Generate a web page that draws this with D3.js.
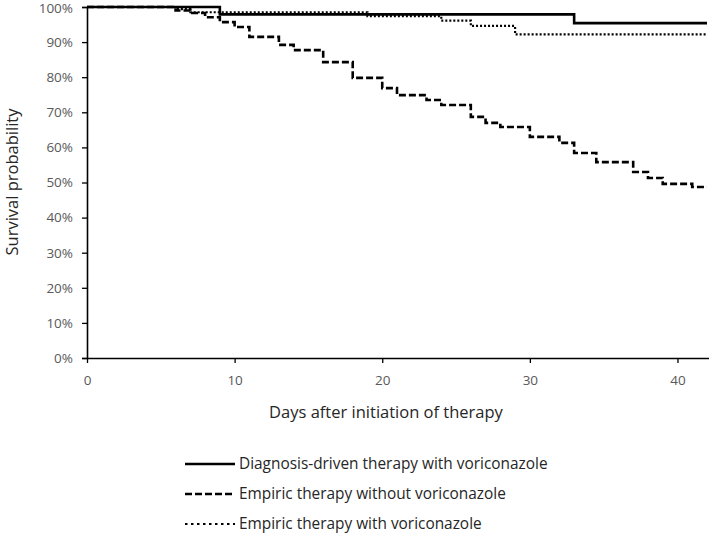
<!DOCTYPE html>
<html>
<head>
<meta charset="utf-8">
<script src="https://cdn.jsdelivr.net/npm/d3@7"></script>
<style>
  html, body { margin: 0; padding: 0; background: #fff; }
  svg { display: block; }
</style>
</head>
<body>
<svg id="chart" width="709" height="549"></svg>
<script>
// ---- data ----
const xTicks = [0, 10, 20, 30, 40];
const yTicks = [0, 10, 20, 30, 40, 50, 60, 70, 80, 90, 100];

const seriesNames = [
  "Diagnosis-driven therapy with voriconazole",
  "Empiric therapy without voriconazole",
  "Empiric therapy with voriconazole"
];

const diagDays = [0, 9, 33, 42];
const diagSurv = [100, 97.9, 95.4, 95.4];

const empNoDays = [0, 6, 7, 8, 9, 10, 11, 13, 14, 16, 18, 20, 21, 23, 24, 26, 27, 28, 30, 32, 33, 34.5, 37, 38, 39, 41, 42];
const empNoSurv = [100, 99, 98.3, 97.1, 95.7, 94.3, 91.5, 89.2, 87.7, 84.3, 79.8, 76.9, 74.9, 73.5, 72.1, 68.7, 67.0, 65.8, 63.0, 61.3, 58.4, 55.8, 53.0, 51.3, 49.6, 48.7, 48.7];

const empVoriDays = [0, 6, 7, 19, 24, 26, 29, 42];
const empVoriSurv = [100, 99.4, 98.5, 97.4, 96.1, 94.6, 92.2, 92.2];

// ---- layout ----
const svg = d3.select("#chart");
const x = d3.scaleLinear().domain([0, 42]).range([87, 707]);
const y = d3.scaleLinear().domain([0, 100]).range([358, 7]);
const font = "'Open Sans', 'Liberation Sans', sans-serif";

// axes
const yAxis = d3.axisLeft(y).tickValues(yTicks).tickFormat(d => d + "%").tickSizeOuter(0).tickSize(5).tickPadding(9);
const gy = svg.append("g").attr("transform", "translate(87,0)").call(yAxis);
const xAxis = d3.axisBottom(x).tickValues(xTicks).tickSizeOuter(0).tickSize(5).tickPadding(12);
const gx = svg.append("g").attr("transform", "translate(0,358)").call(xAxis);

[gy, gx].forEach(g => {
  g.select(".domain").attr("stroke", "#000").attr("stroke-width", 1.6);
  g.selectAll(".tick line").attr("stroke", "#000").attr("stroke-width", 1.3);
  g.selectAll(".tick text").attr("fill", "#595959").style("font-family", font).style("font-size", "13.5px");
});
gy.selectAll(".tick text").filter(d => d === 100).attr("dy", "0.42em");
// extend x domain line to right edge
gx.select(".domain").attr("d", `M87,0.5H709`);

// axis titles
svg.append("text")
  .attr("x", 386).attr("y", 418)
  .attr("text-anchor", "middle")
  .attr("fill", "#262626")
  .style("font-family", font).style("font-size", "16.5px")
  .text("Days after initiation of therapy");

svg.append("text")
  .attr("transform", "translate(18,182) rotate(-90)")
  .attr("text-anchor", "middle")
  .attr("fill", "#262626")
  .style("font-family", font).style("font-size", "16.5px")
  .text("Survival probability");

// curves
const line = d3.line().x(d => x(d[0])).y(d => y(d[1])).curve(d3.curveStepAfter);
const styles = [
  { dash: null, width: 2.6 },
  { dash: "7,3", width: 2.6 },
  { dash: "2,2", width: 2.2 }
];
const data = [
  d3.zip(diagDays, diagSurv),
  d3.zip(empNoDays, empNoSurv),
  d3.zip(empVoriDays, empVoriSurv)
];

const plot = svg.append("g");
[2, 1, 0].forEach(i => {
  plot.append("path")
    .datum(data[i])
    .attr("d", line)
    .attr("fill", "none")
    .attr("stroke", "#000")
    .attr("stroke-width", styles[i].width)
    .attr("stroke-dasharray", styles[i].dash);
});

// legend
const legY = [464, 494, 524];
const legendDash = [null, "7,3", "2.5,3.5"];
seriesNames.forEach((name, i) => {
  svg.append("line")
    .attr("x1", 185).attr("x2", 235)
    .attr("y1", legY[i]).attr("y2", legY[i])
    .attr("stroke", "#000")
    .attr("stroke-width", i === 2 ? 2 : 2.6)
    .attr("stroke-dasharray", legendDash[i]);
  svg.append("text")
    .attr("x", 239).attr("y", legY[i] + 5)
    .attr("fill", "#262626")
    .style("font-family", font).style("font-size", "15.4px")
    .text(name);
});
</script>
</body>
</html>
